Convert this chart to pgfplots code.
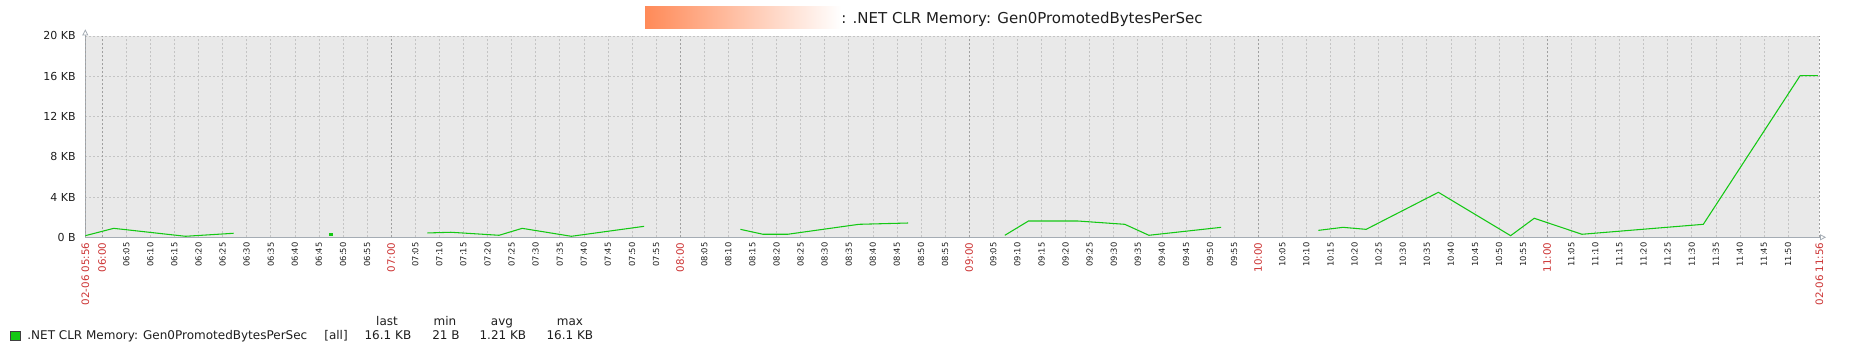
\documentclass[border=0pt]{standalone}
\usepackage{pgfplots}
\pgfplotsset{compat=1.18}
\usepackage{fontspec}
\setmainfont{DejaVu Sans}
\usetikzlibrary{arrows.meta}
\definecolor{bggray}{RGB}{233,233,233}
\definecolor{gridminor}{RGB}{196,196,196}
\definecolor{gridhour}{RGB}{160,160,160}
\definecolor{axisgray}{RGB}{165,172,180}
\definecolor{zred}{RGB}{204,51,51}
\definecolor{zgreen}{RGB}{20,200,20}
\definecolor{zorange}{RGB}{255,138,88}
\definecolor{ztext}{RGB}{30,30,30}
\begin{document}
\begin{tikzpicture}
\useasboundingbox (0,0) rectangle (1388.25pt,264.75pt);
\shade[left color=zorange, right color=white] (483.75pt,243pt) rectangle (630.75pt,259.5pt);
\node[anchor=west, inner sep=0pt, text=ztext, font=\fontsize{11.25}{13}\selectfont] at (630.75pt,250.5pt) {: .NET CLR Memory: Gen0PromotedBytesPerSec};
\begin{axis}[
  at={(63.975pt,86.775pt)}, anchor=south west,
  scale only axis, width=1300.6pt, height=150.98pt,
  xmin=0.5, xmax=360.5, ymin=0, ymax=20,
  enlargelimits=false,
  axis lines=left,
  axis line style={draw=axisgray, line width=0.6pt, shorten >=-5pt, -{Triangle[open, length=4.5pt, width=4.5pt]}},
  axis background/.style={fill=bggray},
  major tick length=0pt,
  grid=major,
  major grid style={gridminor, line width=0.5pt, dash pattern=on 1.5pt off 1.5pt},
  ytick={0,4,8,12,16,20},
  yticklabels={0 B,4 KB,8 KB,12 KB,16 KB,20 KB},
  yticklabel style={font=\fontsize{8.25}{9}\selectfont, text=ztext, anchor=east, inner xsep=7pt, inner ysep=0pt},
  xtick={9,14,...,59,69,74,...,119,129,134,...,179,189,194,...,239,249,254,...,299,309,314,...,354},
  xticklabels={06:05,06:10,06:15,06:20,06:25,06:30,06:35,06:40,06:45,06:50,06:55,
    07:05,07:10,07:15,07:20,07:25,07:30,07:35,07:40,07:45,07:50,07:55,
    08:05,08:10,08:15,08:20,08:25,08:30,08:35,08:40,08:45,08:50,08:55,
    09:05,09:10,09:15,09:20,09:25,09:30,09:35,09:40,09:45,09:50,09:55,
    10:05,10:10,10:15,10:20,10:25,10:30,10:35,10:40,10:45,10:50,10:55,
    11:05,11:10,11:15,11:20,11:25,11:30,11:35,11:40,11:45,11:50},
  xticklabel style={rotate=90, anchor=east, font=\fontsize{6.25}{7}\selectfont, text=ztext, inner xsep=3.75pt, inner ysep=0pt},
  extra x ticks={0.5,4,64,124,184,244,304,360.5},
  extra x tick labels={02-06 05:56,06:00,07:00,08:00,09:00,10:00,11:00,02-06 11:56},
  extra x tick style={grid=major, major grid style={gridhour, line width=0.5pt, dash pattern=on 1.5pt off 1.5pt},
    xticklabel style={text=zred, font=\fontsize{7.7}{8}\selectfont}},
  unbounded coords=jump,
  legend style={draw=none, fill=none, inner sep=0pt, outer sep=0pt, at={(-0.04354,-0.4878)}, anchor=west,
    font=\fontsize{9}{10}\selectfont, text=ztext, nodes={inner sep=0pt},
    /tikz/every odd column/.append style={column sep=5.1pt}},
  legend cell align=left,
]
\addplot[zgreen, line width=0.8pt, mark=none,
  legend image code/.code={\draw[fill=zgreen, draw=black!75, line width=0.6pt] (0pt,-3.4pt) rectangle (7.5pt,3.4pt);}]
  coordinates {
  (0.5,0.16) (6.4,0.89) (21.3,0.1) (31.3,0.4) (40,nan)
  (71.5,0.43) (76.4,0.5) (86.4,0.2) (91.2,0.89) (101.4,0.1) (116.5,1.09) (125,nan)
  (136.5,0.79) (141.2,0.3) (146.3,0.3) (161.1,1.29) (171.3,1.42) (180,nan)
  (191.4,0.2) (196.3,1.62) (206.5,1.62) (216.3,1.29) (221.3,0.2) (236.3,0.99) (245,nan)
  (256.5,0.69) (261.6,0.99) (266.4,0.79) (281.4,4.47) (296.4,0.16) (301.3,1.89) (311.2,0.3) (336.4,1.29) (356.5,16.06) (360.2,16.06)
};
\addlegendentry{\rlap{.NET CLR Memory: Gen0PromotedBytesPerSec}\hspace*{222.7pt}\rlap{[all]}\hspace*{30.2pt}\rlap{16.1 KB}\hspace*{50.8pt}\rlap{21 B}\hspace*{35.45pt}\rlap{1.21 KB}\hspace*{50.25pt}16.1 KB}
\addplot[zgreen, only marks, mark=square*, mark size=1.1pt, forget plot] coordinates {(51.5,0.3)};
\end{axis}
\begin{scope}[every node/.style={font=\fontsize{9}{10}\selectfont, text=ztext, inner sep=0pt, anchor=base}]
\node at (290.25pt,20.25pt) {last};
\node at (333.75pt,20.25pt) {min};
\node at (376.5pt,20.25pt) {avg};
\node at (427.5pt,20.25pt) {max};
\end{scope}
\end{tikzpicture}
\end{document}
